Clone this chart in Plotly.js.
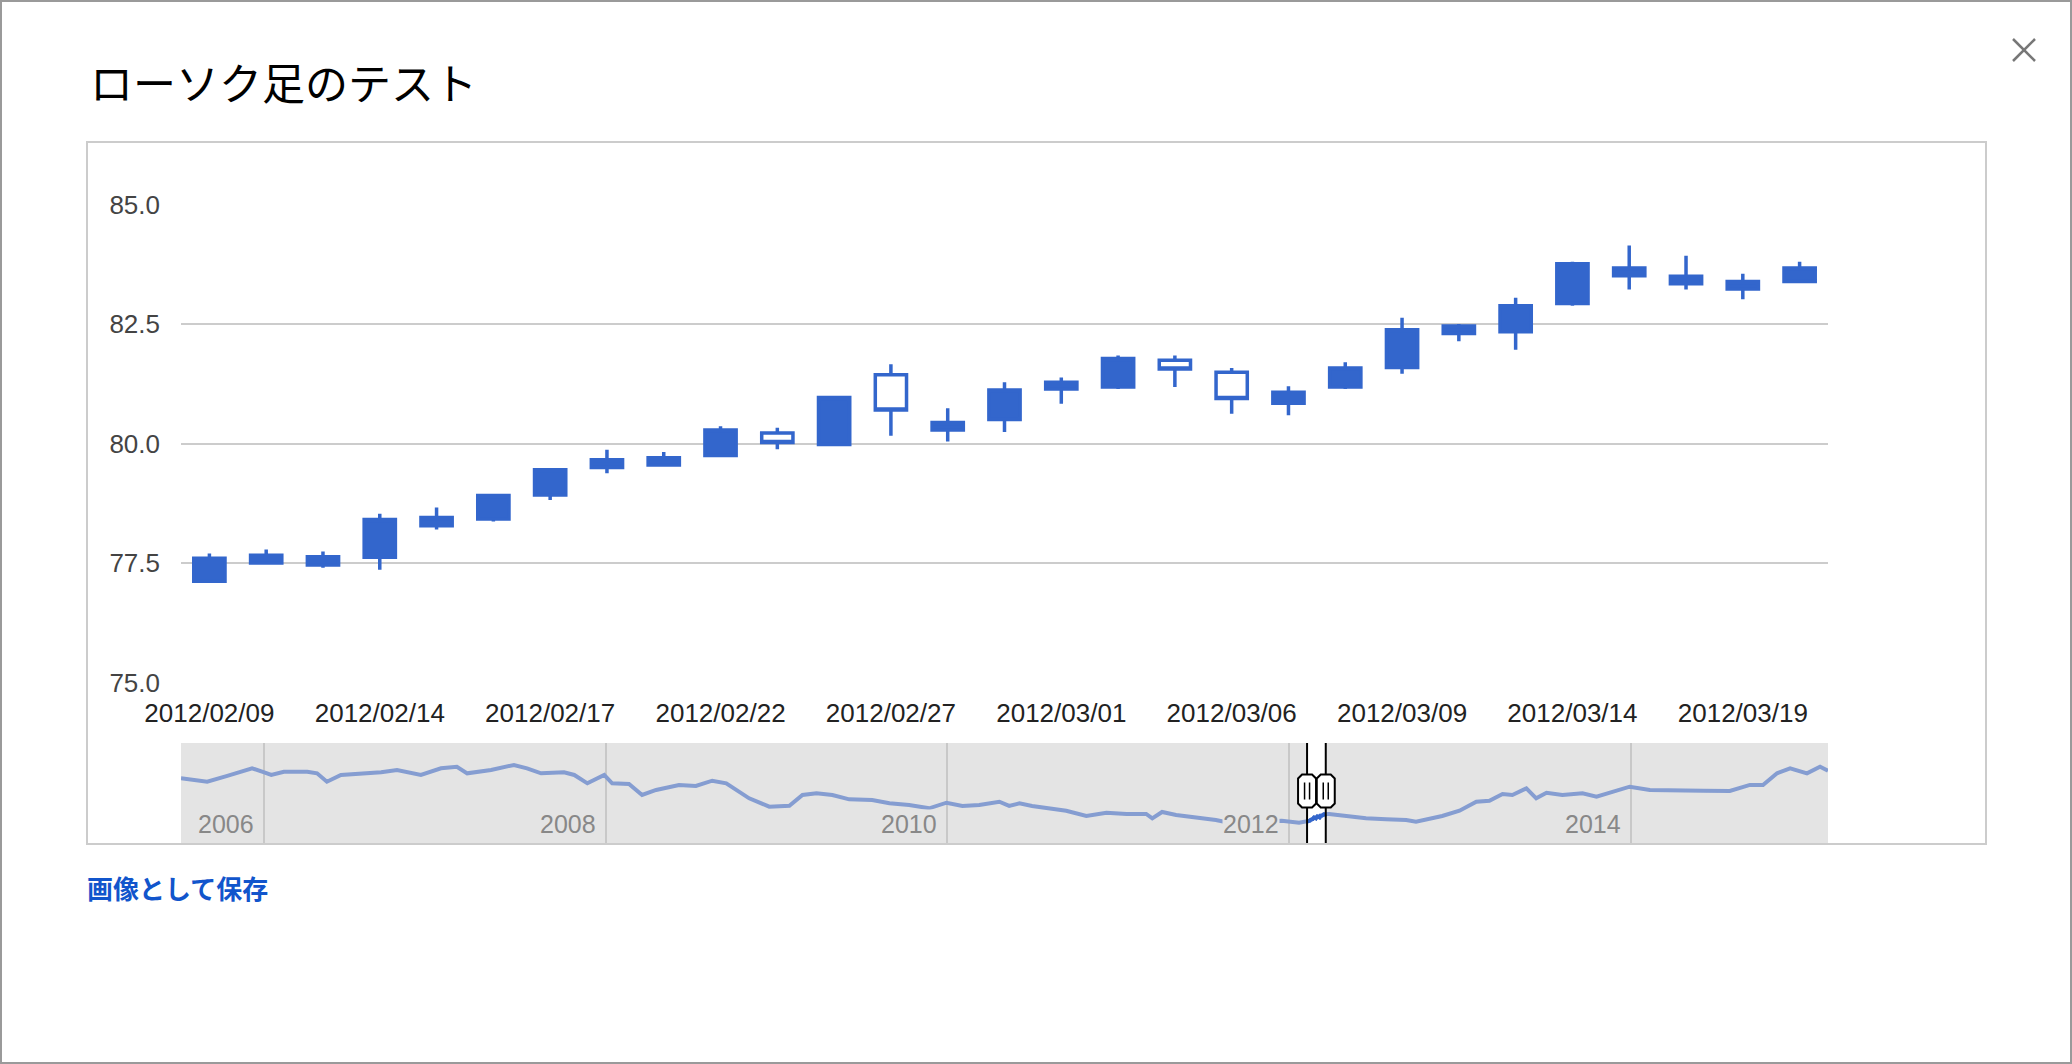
<!DOCTYPE html>
<html>
<head>
<meta charset="utf-8">
<script src="https://cdn.plot.ly/plotly-3.0.1.min.js"></script>
<style>
  html, body { margin: 0; padding: 0; background: #ffffff; }
  #chart { width: 2072px; height: 1064px; }
</style>
</head>
<body>
<div id="chart"></div>
<script>
// ---- Candlestick data (USD/JPY, 2012/02/09 - 2012/03/20) ----
const dates = ['2012/02/09','2012/02/10','2012/02/13','2012/02/14','2012/02/15','2012/02/16','2012/02/17',
  '2012/02/20','2012/02/21','2012/02/22','2012/02/23','2012/02/24','2012/02/27','2012/02/28','2012/02/29',
  '2012/03/01','2012/03/02','2012/03/05','2012/03/06','2012/03/07','2012/03/08','2012/03/09','2012/03/12',
  '2012/03/13','2012/03/14','2012/03/15','2012/03/16','2012/03/19','2012/03/20'];
const openV  = [77.12,77.50,77.46,77.62,78.28,78.42,78.92,79.50,79.55,79.75,80.22,79.98,81.44,80.28,80.50,
  81.14,81.18,81.74,81.49,80.84,81.18,81.59,82.30,82.34,82.93,83.51,83.34,83.23,83.39];
const highV  = [77.70,77.78,77.74,78.53,78.66,78.95,79.49,79.87,79.82,80.36,80.33,81.00,81.66,80.74,81.28,
  81.38,81.84,81.84,81.58,81.20,81.70,82.63,82.50,83.05,83.80,84.14,83.93,83.55,83.80];
const lowV   = [77.08,77.48,77.40,77.36,78.20,78.37,78.82,79.38,79.54,79.74,79.88,79.96,80.16,80.04,80.24,
  80.83,81.14,81.18,80.62,80.59,81.14,81.46,82.14,81.96,82.88,83.22,83.22,83.02,83.36];
const closeV = [77.60,77.66,77.63,78.41,78.45,78.91,79.45,79.66,79.70,80.28,80.02,80.96,80.70,80.44,81.12,
  81.28,81.78,81.56,80.94,81.07,81.58,82.38,82.46,82.88,83.76,83.67,83.50,83.39,83.67];
const yTicks = [75, 77.5, 80, 82.5, 85];

// ---- Range navigator overview series ----
const navDates = ['2005-07-07','2005-09-01','2005-10-14','2005-12-06','2006-01-01','2006-01-16','2006-02-12',
  '2006-04-03','2006-04-24','2006-05-15','2006-06-14','2006-07-27','2006-09-08','2006-10-12','2006-12-02',
  '2007-01-14','2007-02-17','2007-03-11','2007-05-01','2007-06-19','2007-07-17','2007-08-16','2007-10-04',
  '2007-10-26','2007-11-23','2007-12-29','2008-01-15','2008-02-20','2008-03-19','2008-04-18','2008-06-06',
  '2008-07-12','2008-08-16','2008-09-15','2008-10-13','2008-11-03','2008-12-16','2009-01-28','2009-02-25',
  '2009-03-27','2009-04-30','2009-06-05','2009-07-24','2009-08-30','2009-10-11','2009-11-23','2009-12-30',
  '2010-02-02','2010-03-10','2010-04-22','2010-05-13','2010-06-04','2010-07-01','2010-08-07','2010-09-12',
  '2010-10-25','2010-12-07','2011-01-19','2011-03-02','2011-03-15','2011-04-05','2011-05-05','2011-06-23',
  '2011-07-29','2011-08-26','2011-10-29','2011-12-17','2012-01-23',
  '2012-03-27','2012-05-09','2012-06-14','2012-07-27','2012-09-08','2012-09-29','2012-10-27','2012-11-24',
  '2012-12-31','2013-02-05','2013-03-05','2013-04-02','2013-04-23','2013-05-23','2013-06-13','2013-07-05',
  '2013-08-08','2013-09-20','2013-10-20','2013-12-02','2013-12-30','2014-02-11','2014-04-10','2014-06-05',
  '2014-08-01','2014-09-13','2014-10-11','2014-11-10','2014-12-08','2015-01-13','2015-02-10','2015-02-27'];
const navValues = [112.3,109.6,114.2,120.3,117.1,115.0,117.6,
  117.6,116.3,109.6,115.0,116.3,117.1,119.0,115.0,
  120.3,121.6,116.3,119.0,123.0,120.3,116.3,117.1,
  115.0,108.3,115.0,108.3,107.8,99.0,103.0,107.0,
  106.2,110.4,108.3,101.6,96.3,89.6,90.4,99.0,
  100.3,99.0,95.5,95.0,92.3,91.0,88.3,92.8,
  90.2,91.0,93.6,90.2,92.3,90.2,88.3,86.4,
  82.2,84.8,83.8,83.8,80.3,85.4,83.0,81.1,
  79.0,76.8,77.4,78.4,76.8,
  83.8,81.6,80.3,79.5,79.0,77.6,79.5,82.2,
  86.4,93.6,94.4,99.8,99.0,104.3,96.3,100.8,
  99.0,100.3,97.6,102.4,105.6,103.0,102.4,102.4,
  102.2,107.0,107.0,116.3,120.3,116.3,121.6,118.4];
const navYears = ['2006','2008','2010','2012','2014'];
const navRange = ['2005-07-07', '2015-02-27'];

// ---- Build traces ----
const W = 2072, H = 1064;
const px = v => v / W;
const py = v => 1 - v / H;

const winDates = dates.map(d => d.replace(/\//g, '-'));
const allNav = navDates.map((d, i) => [d, navValues[i]])
  .concat(winDates.map((d, i) => [d, closeV[i]]))
  .sort((a, b) => a[0] < b[0] ? -1 : a[0] > b[0] ? 1 : 0);

const BLUE = '#3366cc';
const traces = [
  {
    type: 'candlestick', x: dates, open: openV, high: highV, low: lowV, close: closeV,
    xaxis: 'x', yaxis: 'y', whiskerwidth: 0, showlegend: false, hoverinfo: 'skip',
    increasing: { line: { color: BLUE, width: 3.5 }, fillcolor: BLUE },
    decreasing: { line: { color: BLUE, width: 3.5 }, fillcolor: '#ffffff' }
  },
  {
    type: 'scatter', mode: 'lines', x: allNav.map(p => p[0]), y: allNav.map(p => p[1]),
    xaxis: 'x2', yaxis: 'y2', line: { color: 'rgb(133,157,209)', width: 4 }, hoverinfo: 'skip', showlegend: false
  },
  {
    type: 'scatter', mode: 'lines', x: winDates, y: closeV,
    xaxis: 'x2', yaxis: 'y2', line: { color: BLUE, width: 4 }, hoverinfo: 'skip', showlegend: false
  }
];

const FONT = 'Liberation Sans, Arial, sans-serif';
const JP = 'Noto Sans CJK JP, sans-serif';
const navY0 = py(843), navY1 = py(743);
const handleY = py(791);
const octagon = 'M -9,-12.5 L -9,12.5 L -5,16.5 L 5,16.5 L 9,12.5 L 9,-12.5 L 5,-16.5 L -5,-16.5 Z';
const grips = 'M -2.5,-8.5 L -2.5,8.5 M 2.5,-8.5 L 2.5,8.5';

const shapes = [
  // dialog border
  { type: 'rect', xref: 'paper', yref: 'paper', x0: px(1), x1: px(W - 1), y0: py(H - 1), y1: py(1),
    line: { color: '#9a9a9a', width: 2 } },
  // chart frame
  { type: 'rect', xref: 'paper', yref: 'paper', x0: px(87), x1: px(1986), y0: py(844), y1: py(142),
    line: { color: '#cccccc', width: 2 } },
  // overview shaded (unselected) parts
  { type: 'rect', xref: 'x2', yref: 'paper', x0: navRange[0], x1: winDates[0], y0: navY0, y1: navY1,
    fillcolor: '#e4e4e4', line: { width: 0 }, layer: 'below' },
  { type: 'rect', xref: 'x2', yref: 'paper', x0: winDates[winDates.length - 1], x1: navRange[1], y0: navY0, y1: navY1,
    fillcolor: '#e4e4e4', line: { width: 0 }, layer: 'below' },
  // close icon
  { type: 'line', xref: 'paper', yref: 'paper', x0: px(2013), x1: px(2035), y0: py(39), y1: py(61),
    line: { color: '#777777', width: 2.5 } },
  { type: 'line', xref: 'paper', yref: 'paper', x0: px(2035), x1: px(2013), y0: py(39), y1: py(61),
    line: { color: '#777777', width: 2.5 } }
];
[winDates[0], winDates[winDates.length - 1]].forEach(d => {
  shapes.push({ type: 'line', xref: 'x2', yref: 'paper', x0: d, x1: d, y0: navY0, y1: navY1,
    line: { color: '#000000', width: 2 } });
  shapes.push({ type: 'path', xref: 'x2', yref: 'paper', xsizemode: 'pixel', ysizemode: 'pixel',
    xanchor: d, yanchor: handleY, path: octagon, fillcolor: '#ffffff', line: { color: '#000000', width: 2 } });
  shapes.push({ type: 'path', xref: 'x2', yref: 'paper', xsizemode: 'pixel', ysizemode: 'pixel',
    xanchor: d, yanchor: handleY, path: grips, line: { color: '#000000', width: 1.5 } });
});

const annotations = [
  { text: 'ローソク足のテスト', xref: 'paper', yref: 'paper', x: px(88), y: py(81), xanchor: 'left', yanchor: 'middle',
    showarrow: false, font: { family: JP, size: 43, color: '#000000' } },
  { text: '画像として保存', xref: 'paper', yref: 'paper', x: px(85), y: py(887), xanchor: 'left', yanchor: 'middle',
    showarrow: false, font: { family: JP, size: 26, color: '#1155cc', weight: 'bold' } }
];
navYears.forEach(yr => {
  annotations.push({ text: yr, xref: 'x2', yref: 'paper', x: yr + '-01-01', y: py(824), xanchor: 'right', yanchor: 'middle',
    xshift: -9, showarrow: false, bgcolor: '#e4e4e4', borderpad: 0, font: { family: FONT, size: 25, color: '#888888' } });
});

const layout = {
  width: W, height: H,
  margin: { l: 0, r: 0, t: 0, b: 0 },
  paper_bgcolor: '#ffffff', plot_bgcolor: '#ffffff',
  showlegend: false, hovermode: false,
  font: { family: FONT, color: '#222222' },
  boxgap: 0.45, boxgroupgap: 0,
  xaxis: {
    domain: [px(181), px(1828)], anchor: 'y', type: 'category', range: [-0.5, dates.length - 0.5],
    tickmode: 'array', tickvals: dates.filter((d, i) => i % 3 === 0),
    ticks: '', showgrid: false, zeroline: false, showline: false,
    tickfont: { family: FONT, size: 26, color: '#222222' }, ticklabelstandoff: 12,
    rangeslider: { visible: false }, fixedrange: true
  },
  yaxis: {
    domain: [py(682.5), py(204.5)], anchor: 'x', range: [75, 85],
    tickmode: 'array', tickvals: yTicks, tickformat: '.1f',
    ticks: '', showgrid: true, gridcolor: '#cccccc', gridwidth: 2, zeroline: false, showline: false,
    tickfont: { family: FONT, size: 26, color: '#444444' }, ticklabelstandoff: 20, fixedrange: true
  },
  xaxis2: {
    domain: [px(181), px(1828)], anchor: 'y2', type: 'date', range: navRange,
    tickmode: 'array', tickvals: navYears.map(y => y + '-01-01'), showticklabels: false,
    ticks: '', showgrid: true, gridcolor: '#c8c8c8', gridwidth: 2, zeroline: false, showline: false, fixedrange: true
  },
  yaxis2: {
    domain: [navY0, navY1], anchor: 'x2', range: [60.56, 140.56],
    showgrid: false, showticklabels: false, zeroline: false, showline: false, ticks: '', fixedrange: true
  },
  shapes: shapes,
  annotations: annotations
};

Plotly.newPlot('chart', traces, layout, { staticPlot: true, displayModeBar: false });
</script>
</body>
</html>
